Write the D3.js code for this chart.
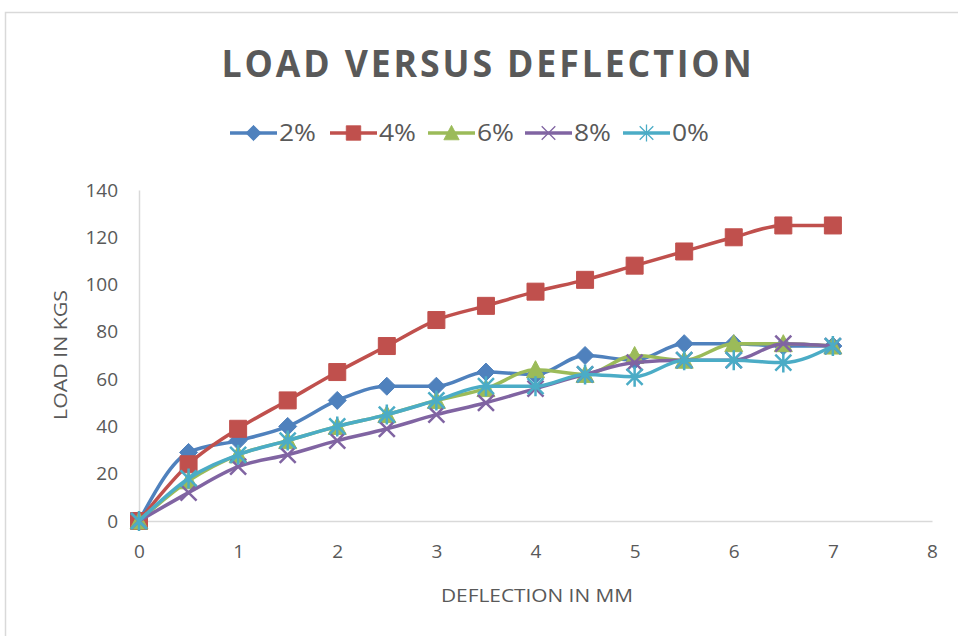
<!DOCTYPE html>
<html>
<head>
<meta charset="utf-8">
<script src="https://cdn.jsdelivr.net/npm/d3@7"></script>
<style>
  body { margin: 0; background: #fff; }
  text { font-family: "Open Sans", "Liberation Sans", sans-serif; fill: #595959; }
</style>
</head>
<body>
<div id="container"></div>
<script>
var WIDTH = 958,
    HEIGHT = 636;

// deflection in mm
var deflection = [0, 0.5, 1, 1.5, 2, 2.5, 3, 3.5, 4, 4.5, 5, 5.5, 6, 6.5, 7];

// load in kgs, one array per mix
var load2 = [0, 29, 34, 40, 51, 57, 57, 63, 62, 70, 68, 75, 75, 74, 74];
var load4 = [0, 24, 39, 51, 63, 74, 85, 91, 97, 102, 108, 114, 120, 125, 125];
var load6 = [0, 17, 28, 34, 40, 45, 51, 56, 64, 62, 70, 68, 75, 75, 74];
var load8 = [0, 12, 23, 28, 34, 39, 45, 50, 56, 62, 67, 68, 68, 75, 74];
var load0 = [0, 18, 28, 34, 40, 45, 51, 57, 57, 62, 61, 68, 68, 67, 74];

var seriesNames = ['2%', '4%', '6%', '8%', '0%'];
var xTicks = [0, 1, 2, 3, 4, 5, 6, 7, 8];
var yTicks = [0, 20, 40, 60, 80, 100, 120, 140];

var series = [
  {name: seriesNames[0], values: load2, color: '#4F81BD', marker: 'diamond'},
  {name: seriesNames[1], values: load4, color: '#C0504D', marker: 'square'},
  {name: seriesNames[2], values: load6, color: '#9BBB59', marker: 'triangle'},
  {name: seriesNames[3], values: load8, color: '#8064A2', marker: 'x'},
  {name: seriesNames[4], values: load0, color: '#4BACC6', marker: 'star'}
];

var svg = d3.select('#container').append('svg')
    .attr('width', WIDTH)
    .attr('height', HEIGHT);

// faint frame (top and left edges only visible)
svg.append('path')
    .attr('d', 'M5.5,636 V12.5 H958')
    .attr('fill', 'none')
    .attr('stroke', '#d9d9d9')
    .attr('stroke-width', 1.5);

var x = d3.scaleLinear().domain([0, 8]).range([139, 932]),
    y = d3.scaleLinear().domain([0, 140]).range([521, 190]);

// title
svg.append('text')
    .attr('x', 488)
    .attr('y', 77)
    .attr('text-anchor', 'middle')
    .attr('textLength', 533)
    .attr('lengthAdjust', 'spacingAndGlyphs')
    .style('font-size', '37px')
    .style('font-weight', 'bold')
    .style('letter-spacing', '3px')
    .text('LOAD VERSUS DEFLECTION');

// axes
var xAxis = svg.append('g')
    .attr('transform', 'translate(0,' + y(0) + ')')
    .call(d3.axisBottom(x).tickValues(xTicks).tickSize(0).tickPadding(24).tickFormat(d3.format('d')));
var yAxis = svg.append('g')
    .attr('transform', 'translate(' + x(0) + ',0)')
    .call(d3.axisLeft(y).tickValues(yTicks).tickSize(0).tickPadding(21).tickFormat(d3.format('d')));

[xAxis, yAxis].forEach(function(ax) {
  ax.select('.domain').attr('stroke', '#d9d9d9').attr('stroke-width', 1.5);
  ax.selectAll('text')
      .style('font-size', '19px')
      .style('fill', '#595959')
      .style('font-family', '"Open Sans", sans-serif');
});

// axis titles
svg.append('text')
    .attr('x', 537)
    .attr('y', 602)
    .attr('text-anchor', 'middle')
    .attr('textLength', 192)
    .attr('lengthAdjust', 'spacingAndGlyphs')
    .style('font-size', '19px')
    .text('DEFLECTION IN MM');

svg.append('text')
    .attr('transform', 'translate(67,355) rotate(-90)')
    .attr('text-anchor', 'middle')
    .attr('textLength', 130)
    .attr('lengthAdjust', 'spacingAndGlyphs')
    .style('font-size', '18px')
    .text('LOAD IN KGS');

// marker shapes
function markerPath(type) {
  if (type === 'diamond') return 'M0,-9 L9,0 L0,9 L-9,0 Z';
  if (type === 'square') return 'M-8.5,-8.5 H8.5 V8.5 H-8.5 Z';
  if (type === 'triangle') return 'M0,-9 L9,8 L-9,8 Z';
  if (type === 'x') return 'M-8,-8 L8,8 M-8,8 L8,-8';
  return 'M-8,-8 L8,8 M-8,8 L8,-8 M0,-10 V10';
}
function markerFilled(type) {
  return type === 'diamond' || type === 'square' || type === 'triangle';
}

var line = d3.line()
    .x(function(d) { return x(d[0]); })
    .y(function(d) { return y(d[1]); })
    .curve(d3.curveMonotoneX);

var groups = svg.selectAll('g.series')
    .data(series)
    .enter()
    .append('g')
      .attr('class', 'series');

groups.append('path')
    .attr('d', function(s) { return line(deflection.map(function(v, i) { return [v, s.values[i]]; })); })
    .attr('fill', 'none')
    .attr('stroke', function(s) { return s.color; })
    .attr('stroke-width', 3.5)
    .attr('stroke-linejoin', 'round');

groups.each(function(s) {
  d3.select(this).selectAll('path.mark')
    .data(deflection.map(function(v, i) { return [v, s.values[i]]; }))
    .enter()
    .append('path')
      .attr('class', 'mark')
      .attr('transform', function(d) { return 'translate(' + x(d[0]) + ',' + y(d[1]) + ')'; })
      .attr('d', markerPath(s.marker))
      .attr('fill', markerFilled(s.marker) ? s.color : 'none')
      .attr('stroke', s.color)
      .attr('stroke-width', markerFilled(s.marker) ? 1 : 2.5);
});

// legend
var legendX = [230, 330, 428, 525, 623];
var legend = svg.selectAll('g.legend')
    .data(series)
    .enter()
    .append('g')
      .attr('class', 'legend')
      .attr('transform', function(d, i) { return 'translate(' + legendX[i] + ',133)'; });

legend.append('line')
    .attr('x1', 0)
    .attr('x2', 47)
    .attr('stroke', function(d) { return d.color; })
    .attr('stroke-width', 3.5);
legend.append('path')
    .attr('transform', 'translate(23.5,0) scale(0.85)')
    .attr('d', function(d) { return markerPath(d.marker); })
    .attr('fill', function(d) { return markerFilled(d.marker) ? d.color : 'none'; })
    .attr('stroke', function(d) { return d.color; })
    .attr('stroke-width', function(d) { return markerFilled(d.marker) ? 1 : 1.5; });
legend.append('text')
    .attr('x', 49)
    .attr('y', 8)
    .attr('textLength', 37)
    .attr('lengthAdjust', 'spacingAndGlyphs')
    .style('font-size', '23px')
    .text(function(d) { return d.name; });
</script>
</body>
</html>
